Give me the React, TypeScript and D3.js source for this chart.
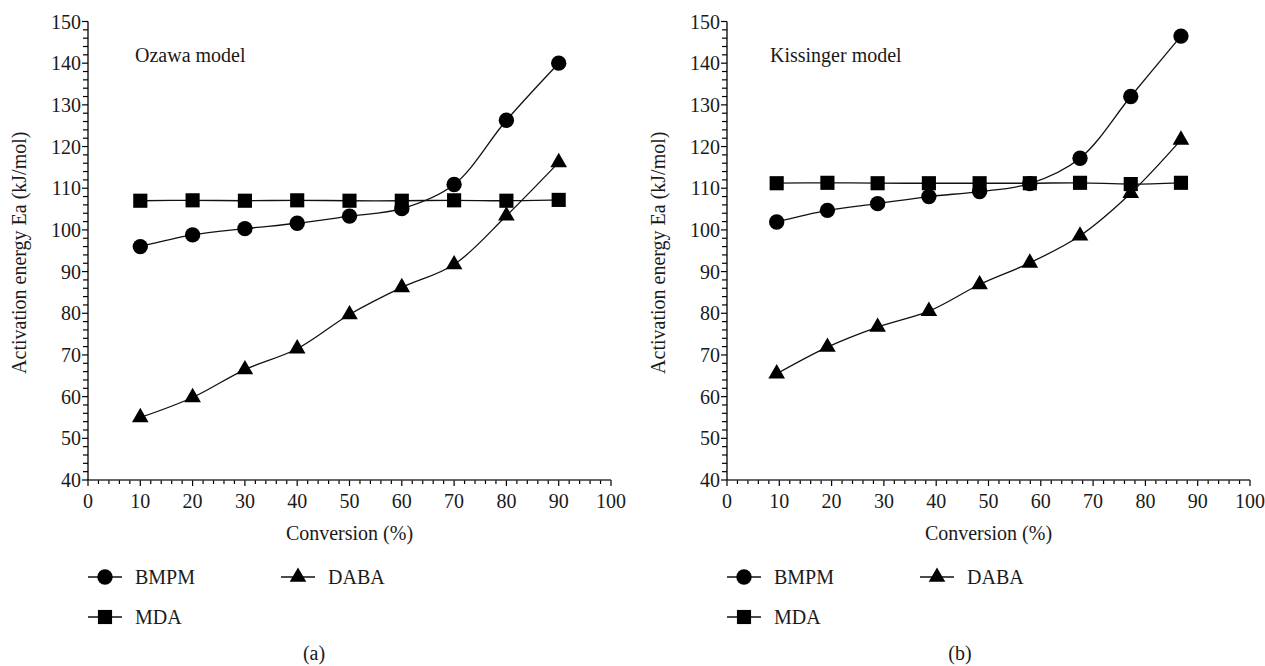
import React, { useEffect, useRef } from 'react';
import * as d3 from 'd3';

// conversion (%) of each point
const conversionA = [10, 20, 30, 40, 50, 60, 70, 80, 90];
const conversionB = [9.5, 19.2, 28.8, 38.6, 48.3, 57.9, 67.5, 77.2, 86.8];

// activation energy, Ozawa model
const bmpmA = [96.0, 98.8, 100.3, 101.6, 103.3, 105.1, 110.9, 126.3, 140.0];
const dabaA = [55.0, 59.8, 66.5, 71.5, 79.7, 86.2, 91.7, 103.4, 116.2];
const mdaA = [107.0, 107.1, 107.0, 107.1, 107.0, 107.0, 107.1, 107.0, 107.2];

// activation energy, Kissinger model
const bmpmB = [101.9, 104.7, 106.3, 108.0, 109.2, 111.1, 117.2, 132.0, 146.5];
const dabaB = [65.5, 71.9, 76.7, 80.5, 86.9, 92.1, 98.6, 108.8, 121.6];
const mdaB = [111.2, 111.3, 111.2, 111.2, 111.2, 111.2, 111.3, 111.0, 111.3];

const xTicks = [0, 10, 20, 30, 40, 50, 60, 70, 80, 90, 100];
const yTicks = [40, 50, 60, 70, 80, 90, 100, 110, 120, 130, 140, 150];

const FONT = 'Liberation Serif, Times New Roman, serif';
const FS = 20;

function drawPanel(svg, opts) {
  var left = opts.left,
    top = 21.5,
    w = 523,
    h = 480 - top;

  var g = svg.append('g').style('font-family', FONT).style('font-size', FS + 'px');
  var x = d3.scaleLinear().domain([0, 100]).range([left, left + w]);
  var y = d3.scaleLinear().domain([40, 150]).range([top + h, top]);

  // minor ticks every 2 units
  var xMinor = d3.range(0, 101, 2);
  var yMinor = d3.range(40, 151, 2);

  g.selectAll('.xminor').data(xMinor).join('line')
    .attr('x1', (d) => x(d)).attr('x2', (d) => x(d))
    .attr('y1', top + h).attr('y2', (d) => top + h + (d % 10 === 0 ? 6 : 4))
    .attr('stroke', '#000').attr('stroke-width', 1.2);
  g.selectAll('.yminor').data(yMinor).join('line')
    .attr('y1', (d) => y(d)).attr('y2', (d) => y(d))
    .attr('x1', left).attr('x2', (d) => left - (d % 10 === 0 ? 6 : 5))
    .attr('stroke', '#000').attr('stroke-width', 1.2);

  // axis lines
  g.append('line').attr('x1', left).attr('x2', left + w)
    .attr('y1', top + h).attr('y2', top + h).attr('stroke', '#333').attr('stroke-width', 1.3);
  g.append('line').attr('x1', left).attr('x2', left)
    .attr('y1', top).attr('y2', top + h).attr('stroke', '#000').attr('stroke-width', 1.3);

  // tick labels
  g.selectAll('.xlab').data(xTicks).join('text')
    .attr('x', (d) => x(d)).attr('y', top + h + 28)
    .attr('text-anchor', 'middle').attr('fill', '#1a1a1a').text((d) => d);
  g.selectAll('.ylab').data(yTicks).join('text')
    .attr('x', left - 7).attr('y', (d) => y(d) + 7)
    .attr('text-anchor', 'end').attr('fill', '#1a1a1a').text((d) => d);

  // axis titles
  g.append('text').attr('x', left + w / 2).attr('y', 540)
    .attr('text-anchor', 'middle').attr('fill', '#1a1a1a').text('Conversion (%)');
  g.append('text')
    .attr('transform', `translate(${left - 62}, ${top + h / 2 + 2}) rotate(-90)`)
    .attr('text-anchor', 'middle').attr('fill', '#1a1a1a').text('Activation energy Ea (kJ/mol)');

  // model name
  g.append('text').attr('x', left + opts.nameDx).attr('y', 62)
    .attr('fill', '#1a1a1a').text(opts.name);

  var line = d3.line().x((d) => x(d[0])).y((d) => y(d[1])).curve(d3.curveCatmullRom.alpha(0.5));

  var series = [
    { vals: opts.mda, sym: d3.symbolSquare, size: 200 },
    { vals: opts.bmpm, sym: d3.symbolCircle, size: 185 },
    { vals: opts.daba, sym: d3.symbolTriangle, size: 120 },
  ];

  series.forEach((s) => {
    var pts = opts.xs.map((v, i) => [v, s.vals[i]]);
    g.append('path').datum(pts).attr('d', line)
      .attr('fill', 'none').attr('stroke', '#111').attr('stroke-width', 1.3);
    g.selectAll(null).data(pts).join('path')
      .attr('transform', (d) => `translate(${x(d[0])},${y(d[1])})`)
      .attr('d', d3.symbol().type(s.sym).size(s.size)())
      .attr('fill', '#000');
  });

  // legend
  var legend = [
    { name: 'BMPM', sym: d3.symbolCircle, size: 185, dx: 0, y: 577 },
    { name: 'DABA', sym: d3.symbolTriangle, size: 120, dx: 193, y: 577 },
    { name: 'MDA', sym: d3.symbolSquare, size: 200, dx: 0, y: 617 },
  ];
  legend.forEach((l) => {
    var lx = left + l.dx;
    g.append('line').attr('x1', lx).attr('x2', lx + 34).attr('y1', l.y).attr('y2', l.y)
      .attr('stroke', '#111').attr('stroke-width', 1.3);
    g.append('path').attr('transform', `translate(${lx + 17},${l.y})`)
      .attr('d', d3.symbol().type(l.sym).size(l.size)()).attr('fill', '#000');
    g.append('text').attr('x', lx + 47).attr('y', l.y + 7)
      .attr('fill', '#1a1a1a').text(l.name);
  });

  g.append('text').attr('x', left + opts.capDx).attr('y', 660)
    .attr('text-anchor', 'middle').attr('fill', '#1a1a1a').text(opts.caption);
}

export default function App() {
  const ref = useRef(null);

  useEffect(() => {
    var svg = d3.select(ref.current);
    svg.selectAll('*').remove();
    drawPanel(svg, {
      left: 88, xs: conversionA, bmpm: bmpmA, daba: dabaA, mda: mdaA,
      name: 'Ozawa model', nameDx: 47, caption: '(a)', capDx: 226,
    });
    drawPanel(svg, {
      left: 727, xs: conversionB, bmpm: bmpmB, daba: dabaB, mda: mdaB,
      name: 'Kissinger model', nameDx: 43, caption: '(b)', capDx: 233,
    });
  }, []);

  return (
    <svg ref={ref} width={1265} height={666}
      style={{ position: 'absolute', left: 0, top: 0, background: '#fff' }} />
  );
}
